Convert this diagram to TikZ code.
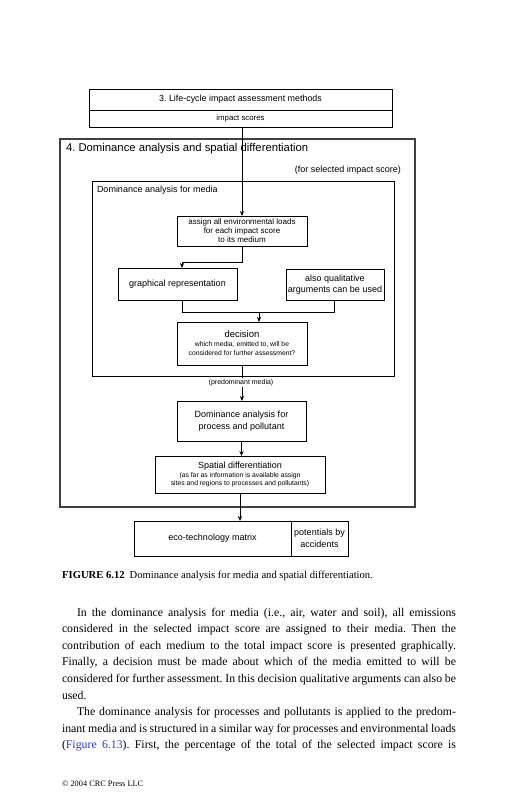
\documentclass[tikz,border=0pt]{standalone}
\usepackage{fontspec}
\setmainfont{Liberation Serif}
\setsansfont{Liberation Sans}
\usetikzlibrary{arrows.meta}
\definecolor{linkblue}{RGB}{35,60,215}
\frenchspacing
\begin{document}
\begin{tikzpicture}[x=1pt,y=-1pt,
  box/.style={draw, line width=0.8pt, inner sep=0pt, outer sep=0pt, align=center,
    font=\sffamily\fontsize{9}{10.5}\selectfont},
  lbl/.style={inner sep=0pt, outer sep=0pt, font=\sffamily\fontsize{9}{10.5}\selectfont},
  arr/.style={line width=0.8pt, -{Stealth[length=5pt,width=4.2pt]}},
  ln/.style={line width=0.8pt},
  body/.style={anchor=base west, inner sep=0pt, outer sep=0pt, font=\fontsize{11.8}{16.6}\selectfont}]
\useasboundingbox (0,0) rectangle (518,800);
\fill[white] (0,0) rectangle (518,800);

% outer frame 4
\node[draw=black!75, line width=1.1pt, inner sep=0pt, outer sep=0pt,
  minimum width=355pt, minimum height=368pt] (outer) at (237.5,323) {};
\node[lbl, anchor=base west, font=\sffamily\fontsize{11.3}{13}\selectfont] (t4) at (66,151.5)
  {4. Dominance analysis and spatial differentiation};
\node[lbl, anchor=base east] (forsel) at (401,172) {(for selected impact score)};

% box 3
\node[box, minimum width=303pt, minimum height=21pt, font=\sffamily\fontsize{8.9}{10}\selectfont] (lca) at (240.5,99.5)
  {3. Life-cycle impact assessment methods};
\node[box, minimum width=303pt, minimum height=17pt, font=\sffamily\fontsize{7.8}{9}\selectfont] (scores) at (240.5,118.5)
  {impact scores};

% media frame
\node[draw, line width=0.8pt, inner sep=0pt, outer sep=0pt,
  minimum width=302pt, minimum height=195pt] (media) at (243,278.5) {};
\node[lbl, anchor=base west] (medialbl) at (97,192) {Dominance analysis for media};

\node[box, minimum width=130pt, minimum height=30pt, font=\sffamily\fontsize{8}{9}\selectfont] (assign) at (242,231)
  {assign all environmental loads\\for each impact score\\to its medium};
\node[box, minimum width=119pt, minimum height=32pt] (graph) at (177.5,284)
  {graphical representation};
\node[box, minimum width=98pt, minimum height=31pt] (qual) at (335,284.5)
  {also qualitative\\arguments can be used};
\node[box, minimum width=130pt, minimum height=43pt, font=\sffamily\fontsize{6.8}{9}\selectfont] (decision) at (242,343.5)
  {{\fontsize{9.5}{10}\selectfont decision}\\which media, emitted to, will be\\considered for further assessment?};

\node[box, minimum width=129pt, minimum height=40pt, font=\sffamily\fontsize{9}{12}\selectfont] (domproc) at (241.5,421)
  {Dominance analysis for\\process and pollutant};
\node[box, minimum width=170pt, minimum height=37pt, font=\sffamily\fontsize{6.8}{8.5}\selectfont] (spatial) at (240,474.5)
  {{\fontsize{9}{10}\selectfont Spatial differentiation}\\(as far as information is available assign\\sites and regions to processes and pollutants)};

\node[box, minimum width=157pt, minimum height=35pt] (eco) at (212.5,538.5) {eco-technology matrix};
\node[box, minimum width=57pt, minimum height=35pt, font=\sffamily\fontsize{9}{12.5}\selectfont] (pot) at (319.5,538.5)
  {potentials by\\accidents};

% connectors
\draw[arr] (assign.north |- scores.south) -- (assign.north);
\coordinate (g1) at (182,262);
\draw[arr] (assign.south) -- (assign.south |- g1) -- (g1) -- (g1 |- graph.north);
\coordinate (gq) at (182,312);
\coordinate (qq) at (334,312);
\draw[ln] (gq |- graph.south) -- (gq) -- (qq) -- (qq |- qual.south);
\coordinate (j) at (259,312);
\draw[arr] (j) -- (j |- decision.north);
\draw[arr] (decision.south) -- (decision.south |- domproc.north);
\node[lbl, fill=white, inner sep=1pt, font=\sffamily\fontsize{7}{8}\selectfont] (pred) at (241,382.5) {(predominant media)};
\draw[arr] (domproc.south) -- (domproc.south |- spatial.north);
\draw[arr] (spatial.south) -- (spatial.south |- eco.north);

% caption
\node[anchor=base west, inner sep=0pt, font=\fontsize{10.6}{12}\selectfont] (cap) at (62,578.5)
  {\textbf{FIGURE 6.12}\hspace{5pt}Dominance analysis for media and spatial differentiation.};

% body text
\node[body] (p1) at (77,616) {\makebox[379pt][s]{In the dominance analysis for media (i.e., air, water and soil), all emissions}};
\node[body] (p2) at (62,632.6) {\makebox[394pt][s]{considered in the selected impact score are assigned to their media. Then the}};
\node[body] (p3) at (62,649.2) {\makebox[394pt][s]{contribution of each medium to the total impact score is presented graphically.}};
\node[body] (p4) at (62,665.8) {\makebox[394pt][s]{Finally, a decision must be made about which of the media emitted to will be}};
\node[body] (p5) at (62,682.4) {\makebox[394pt][s]{considered for further assessment. In this decision qualitative arguments can also be}};
\node[body] (p6) at (62,699) {used.};
\node[body] (p7) at (77,715.6) {\makebox[379pt][s]{The dominance analysis for processes and pollutants is applied to the predom-}};
\node[body] (p8) at (62,732.2) {\makebox[394pt][s]{inant media and is structured in a similar way for processes and environmental loads}};
\node[body] (p9) at (62,748.8) {\makebox[394pt][s]{(\textcolor{linkblue}{Figure 6.13}). First, the percentage of the total of the selected impact score is}};
\node[anchor=base west, inner sep=0pt, font=\fontsize{8.3}{10}\selectfont] (copy) at (62,786) {\textcopyright\ 2004 CRC Press LLC};
\end{tikzpicture}
\end{document}
